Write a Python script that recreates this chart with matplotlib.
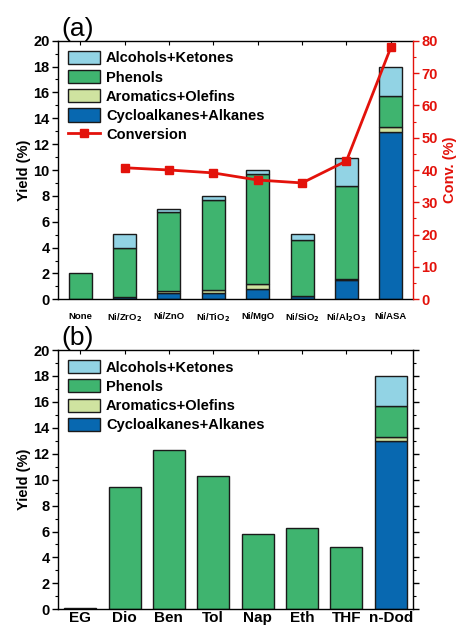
import numpy as np
import matplotlib
matplotlib.use("Agg")
import matplotlib.pyplot as plt
from matplotlib.patches import Patch
from matplotlib.lines import Line2D
from matplotlib.ticker import MultipleLocator

plt.rcParams['font.family'] = ['Liberation Sans', 'DejaVu Sans']
plt.rcParams['font.weight'] = 'bold'

# ---- panel (a): catalysts ----
catalysts = ["None", "Ni/ZrO$_2$", "Ni/ZnO", "Ni/TiO$_2$", "Ni/MgO",
             "Ni/SiO$_2$", "Ni/Al$_2$O$_3$", "Ni/ASA"]
cyclo_a = [0.0, 0.15, 0.50, 0.50, 0.80, 0.25, 1.50, 12.95]
arom_a = [0.0, 0.05, 0.12, 0.25, 0.40, 0.02, 0.10, 0.35]
phen_a = [2.0, 3.80, 6.13, 6.90, 8.50, 4.33, 7.20, 2.40]
alco_a = [0.0, 1.05, 0.25, 0.35, 0.30, 0.45, 2.10, 2.30]
conversion = [np.nan, 40.7, 40.0, 39.1, 36.9, 36.0, 42.8, 77.9]

# ---- panel (b): solvents ----
solvents = ["EG", "Dio", "Ben", "Tol", "Nap", "Eth", "THF", "n-Dod"]
cyclo_b = [0.0, 0.0, 0.0, 0.0, 0.0, 0.0, 0.0, 12.95]
arom_b = [0.0, 0.0, 0.0, 0.0, 0.0, 0.0, 0.0, 0.35]
phen_b = [0.08, 9.45, 12.3, 10.25, 5.8, 6.25, 4.8, 2.40]
alco_b = [0.0, 0.0, 0.0, 0.0, 0.0, 0.0, 0.0, 2.30]

labels = ["Cycloalkanes+Alkanes", "Aromatics+Olefins", "Phenols", "Alcohols+Ketones"]
colors = ["#0868b0", "#cfe3a0", "#3fb46f", "#92d3e4"]
red = "#e3120b"

W, H = 460, 627
fig = plt.figure(figsize=(W / 100, H / 100), dpi=100)


def ax_rect(l, t, r, b):
    return [l / W, 1 - b / H, (r - l) / W, (b - t) / H]


def stacked(ax, series, width):
    x = np.arange(len(series[0]))
    bottom = np.zeros(len(x))
    for vals, c in zip(series, colors):
        vals = np.asarray(vals, float)
        mask = vals > 0
        ax.bar(x[mask], vals[mask], width, bottom=bottom[mask], color=c,
               edgecolor="#1a1a1a", linewidth=1.0, zorder=2)
        bottom += vals
    return x


def style_left(ax):
    ax.set_ylim(0, 20)
    ax.set_xlim(-0.5, 7.5)
    ax.yaxis.set_major_locator(MultipleLocator(2))
    ax.yaxis.set_minor_locator(MultipleLocator(1))
    ax.tick_params(axis='y', which='major', direction='out', length=4, width=1,
                   labelsize=10.5, pad=2)
    ax.tick_params(axis='y', which='minor', direction='out', length=2.5, width=0.8)
    ax.set_ylabel("Yield (%)", fontsize=10.5, fontweight='bold', labelpad=2)
    for s in ax.spines.values():
        s.set_linewidth(1.0)


legend_handles = [Patch(facecolor=c, edgecolor="#1a1a1a", label=l)
                  for l, c in zip(labels[::-1], colors[::-1])]
legend_kw = dict(loc='upper left', frameon=False,
                 prop={'size': 10.5, 'weight': 'bold'}, handlelength=2.2,
                 handleheight=1.0, labelspacing=0.32, handletextpad=0.4,
                 borderaxespad=0.3, bbox_to_anchor=(0.0, 1.0))

# panel (a)
axa = fig.add_axes(ax_rect(58, 40.7, 413, 299.3))
x = stacked(axa, [cyclo_a, arom_a, phen_a, alco_a], 0.52)
style_left(axa)
axa.set_xticks(x)
axa.set_xticklabels(catalysts, fontsize=6.8, fontweight='bold')
axa.tick_params(axis='x', which='both', bottom=False, top=True, direction='in',
                length=3, pad=9)
axa.spines['right'].set_visible(False)

ax2 = axa.twinx()
ax2.plot(x, conversion, color=red, marker='s', markersize=6, linewidth=2, zorder=5)
ax2.set_ylim(0, 80)
ax2.yaxis.set_major_locator(MultipleLocator(10))
ax2.yaxis.set_minor_locator(MultipleLocator(5))
ax2.tick_params(axis='y', which='major', direction='out', length=4, width=1,
                colors=red, labelsize=10.5, pad=2)
ax2.tick_params(axis='y', which='minor', direction='out', length=2.5, width=0.8,
                colors=red)
ax2.spines['right'].set_color(red)
ax2.spines['right'].set_linewidth(1.0)
for s in ['left', 'top', 'bottom']:
    ax2.spines[s].set_visible(False)
ax2.set_ylabel("Conv. (%)", color=red, fontsize=10.5, fontweight='bold', labelpad=4)
for t in ax2.get_yticklabels():
    t.set_fontweight('bold')

handles_a = legend_handles + [Line2D([0], [0], color=red, marker='s', markersize=6,
                                     linewidth=2, label="Conversion")]
axa.legend(handles=handles_a, **legend_kw)
axa.text(0.01, 1.0, "(a)", transform=axa.transAxes, fontsize=19,
         fontweight='normal', va='bottom', ha='left')

# panel (b)
axb = fig.add_axes(ax_rect(58, 350, 413, 609.3))
x = stacked(axb, [cyclo_b, arom_b, phen_b, alco_b], 0.72)
style_left(axb)
axb.set_xticks(x)
axb.set_xticklabels(solvents, fontsize=11, fontweight='bold')
axb.tick_params(axis='x', which='both', bottom=False, top=True, direction='in',
                length=3, pad=1)
axb.tick_params(axis='y', which='both', right=True)
axb.tick_params(axis='y', which='major', direction='out')
axb.legend(handles=legend_handles, **legend_kw)
axb.text(0.01, 1.0, "(b)", transform=axb.transAxes, fontsize=19,
         fontweight='normal', va='bottom', ha='left')

for t in axa.get_yticklabels() + axb.get_yticklabels():
    t.set_fontweight('bold')

fig.savefig("out.png", dpi=100)
